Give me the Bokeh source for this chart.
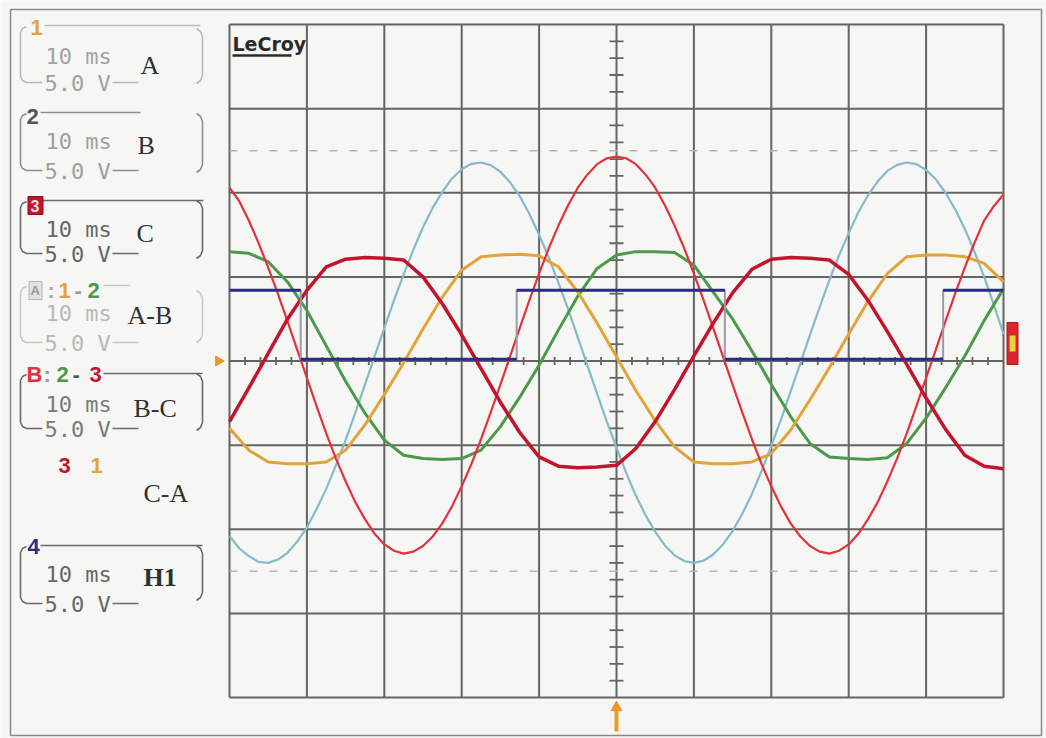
import numpy as np
from bokeh.plotting import figure
from bokeh.models import Range1d, Label, ColumnDataSource
from bokeh.embed import file_html
from bokeh.resources import INLINE

# ---- acquisition: 10 ms/div, 5 V/div, 10 x 8 divisions ----
t_ms = [0.0, 2.5, 5.0, 7.5, 10.0, 12.5, 15.0, 17.5, 20.0, 22.5,
        25.0, 27.5, 30.0, 32.5, 35.0, 37.5, 40.0, 42.5, 45.0, 47.5,
        50.0, 52.5, 55.0, 57.5, 60.0, 62.5, 65.0, 67.5, 70.0, 72.5,
        75.0, 77.5, 80.0, 82.5, 85.0, 87.5, 90.0, 92.5, 95.0, 97.5, 100.0]

# channel 1 (phase A), volts
ch1_a = [-4.0, -5.3, -6.0, -6.1, -6.1, -6.0, -5.3, -3.8, -2.0, -0.1,
         1.9, 3.8, 5.4, 6.2, 6.3, 6.35, 6.25, 5.6, 4.1, 2.25,
         0.25, -1.75, -3.55, -5.1, -6.0, -6.1, -6.1, -6.0, -5.5, -4.1,
         -2.3, -0.4, 1.6, 3.55, 5.2, 6.2, 6.3, 6.3, 6.2, 5.8, 4.7]

# channel 2 (phase B), volts
ch2_b = [6.5, 6.4, 5.9, 4.7, 3.0, 0.9, -1.2, -3.1, -4.7, -5.6,
         -5.8, -5.85, -5.8, -5.3, -3.9, -2.15, -0.25, 1.85, 3.85, 5.5,
         6.3, 6.5, 6.5, 6.45, 5.7, 4.1, 2.5, 0.6, -1.4, -3.3,
         -4.9, -5.7, -5.8, -5.85, -5.75, -4.9, -3.4, -1.6, 0.3, 2.4, 4.3]

# channel 3 (phase C), volts
ch3_c = [-3.6, -1.6, 0.45, 2.5, 4.2, 5.6, 6.05, 6.15, 6.1, 6.0,
         5.0, 3.4, 1.55, -0.45, -2.45, -4.25, -5.7, -6.25, -6.35, -6.3,
         -6.2, -5.2, -3.6, -1.7, 0.3, 2.25, 4.05, 5.45, 6.05, 6.15,
         6.1, 6.0, 5.15, 3.6, 1.75, -0.2, -2.2, -4.05, -5.6, -6.25, -6.4]

# math traces are stored at a finer step
t_math_ms = [0.0, 1.25, 2.5, 3.75, 5.0, 6.25, 7.5, 8.75, 10.0, 11.25,
             12.5, 13.75, 15.0, 16.25, 17.5, 18.75, 20.0, 21.25, 22.5, 23.75,
             25.0, 26.25, 27.5, 28.75, 30.0, 31.25, 32.5, 33.75, 35.0, 36.25,
             37.5, 38.75, 40.0, 41.25, 42.5, 43.75, 45.0, 46.25, 47.5, 48.75,
             50.0, 51.25, 52.5, 53.75, 55.0, 56.25, 57.5, 58.75, 60.0, 61.25,
             62.5, 63.75, 65.0, 66.25, 67.5, 68.75, 70.0, 71.25, 72.5, 73.75,
             75.0, 76.25, 77.5, 78.75, 80.0, 81.25, 82.5, 83.75, 85.0, 86.25,
             87.5, 88.75, 90.0, 91.25, 92.5, 93.75, 95.0, 96.25, 97.5, 98.75, 100.0]

# math trace A-B (channel 1 - channel 2), volts
math_ab = [-10.4, -11.13, -11.6, -11.94, -12.0, -11.8, -11.4, -10.73, -9.9, -8.8,
           -7.6, -6.19, -4.7, -3.08, -1.4, 0.27, 1.95, 3.6, 5.15, 6.61,
           7.95, 9.1, 10.05, 10.85, 11.4, 11.72, 11.8, 11.64, 11.25, 10.62,
           9.8, 8.74, 7.5, 6.15, 4.65, 3.08, 1.4, -0.27, -1.95, -3.6,
           -5.15, -6.65, -8.0, -9.16, -10.15, -10.96, -11.55, -11.89, -12.0, -11.87,
           -11.5, -10.91, -10.1, -9.08, -7.9, -6.53, -5.05, -3.48, -1.8, -0.14,
           1.55, 3.2, 4.8, 6.28, 7.6, 8.84, 9.85, 10.68, 11.3, 11.66,
           11.8, 11.7, 11.35, 10.8, 10.0, 9.02, 7.85, 6.5, 5.0, 3.35, 1.6]

# math trace B-C (channel 2 - channel 3), volts
math_bc = [10.3, 9.51, 8.35, 7.02, 5.55, 4.0, 2.35, 0.66, -1.0, -2.68,
           -4.3, -5.8, -7.15, -8.39, -9.4, -10.27, -10.9, -11.28, -11.45, -11.33,
           -11.0, -10.43, -9.65, -8.64, -7.45, -6.13, -4.65, -3.06, -1.4, 0.27,
           1.95, 3.62, 5.2, 6.7, 8.05, 9.26, 10.3, 11.09, 11.7, 12.05,
           12.15, 12.05, 11.7, 11.09, 10.3, 9.26, 8.05, 6.7, 5.2, 3.62,
           1.95, 0.27, -1.4, -3.06, -4.65, -6.13, -7.45, -8.64, -9.65, -10.43,
           -11.0, -11.33, -11.45, -11.28, -10.9, -10.27, -9.4, -8.39, -7.15, -5.8,
           -4.3, -2.68, -1.0, 0.66, 2.35, 4.0, 5.55, 7.02, 8.35, 9.2, 9.9]

# channel 4 (H1 logic signal): edge times and levels
h1_edges_ms = [0.0, 9.2, 37.1, 64.0, 92.2, 100.0]
h1_levels_v = [4.2, 0.1, 4.2, 0.1, 4.2]

TIME_DIV = 10.0
VOLT_DIV = 5.0
N_HDIV, N_VDIV = 10, 8
T_SPAN = N_HDIV * TIME_DIV
V_HALF = N_VDIV * VOLT_DIV / 2

# page geometry: the graticule sits inside a 1046 x 738 screen
W, H = 1046, 738
GX0, GX1, GY0, GY1 = 229, 1003, 24, 697
ms_per_px = T_SPAN / (GX1 - GX0)
v_per_px = (2 * V_HALF) / (GY1 - GY0)
x_lo = -GX0 * ms_per_px
x_hi = T_SPAN + (W - GX1) * ms_per_px
y_hi = V_HALF + GY0 * v_per_px
y_lo = -V_HALF - (H - GY1) * v_per_px


def sx(px):
    return x_lo + px * ms_per_px


def sy(py):
    return y_hi - py * v_per_px


BG = "#f6f6f4"
GRID = "#646464"

p = figure(width=W, height=H, x_range=Range1d(x_lo, x_hi), y_range=Range1d(y_lo, y_hi),
           x_axis_type=None, y_axis_type=None, output_backend="svg",
           toolbar_location=None, min_border=0, background_fill_color=BG,
           border_fill_color=BG, outline_line_color=None)

# ---- outer screen frame ----
p.line([sx(10), sx(1041), sx(1041), sx(10), sx(10)],
       [sy(9), sy(9), sy(735), sy(735), sy(9)], line_color="#8a8a8a", line_width=1.5)

# ---- graticule ----
vx = [i * TIME_DIV for i in range(N_HDIV + 1)]
p.segment(x0=vx, x1=vx, y0=[-V_HALF] * len(vx), y1=[V_HALF] * len(vx),
          line_color=GRID, line_width=2)
hy = [-V_HALF + j * VOLT_DIV for j in range(N_VDIV + 1)]
p.segment(x0=[0] * len(hy), x1=[T_SPAN] * len(hy), y0=hy, y1=hy,
          line_color=GRID, line_width=2)

# dashed reference lines at +/- 2.5 div
for lvl in (2.5 * VOLT_DIV, -2.5 * VOLT_DIV):
    p.segment(x0=[0], x1=[T_SPAN], y0=[lvl], y1=[lvl], line_color="#b4b4b4",
              line_width=1.5, line_dash="8 12")

# minor ticks on the centre axes (5 per division)
mt = [k * TIME_DIV / 5 for k in range(1, 5 * N_HDIV) if k % 5]
p.segment(x0=mt, x1=mt, y0=[-4 * v_per_px] * len(mt), y1=[4 * v_per_px] * len(mt),
          line_color=GRID, line_width=1.8)
mv = [k * VOLT_DIV / 5 for k in range(-5 * N_VDIV // 2 + 1, 5 * N_VDIV // 2) if k % 5]
p.segment(x0=[T_SPAN / 2 - 7 * ms_per_px] * len(mv), x1=[T_SPAN / 2 + 7 * ms_per_px] * len(mv),
          y0=mv, y1=mv, line_color=GRID, line_width=1.8)

# ---- traces ----
src = ColumnDataSource(dict(t=t_ms, a=ch1_a, b=ch2_b, c=ch3_c))
msrc = ColumnDataSource(dict(t=t_math_ms, ab=math_ab, bc=math_bc))
p.line("t", "ab", source=msrc, line_color="#86bac8", line_width=2.2)
p.line("t", "b", source=src, line_color="#4b9a4a", line_width=3)
p.line("t", "a", source=src, line_color="#e3a33b", line_width=3)
p.line("t", "bc", source=msrc, line_color="#e2323e", line_width=2.2)
p.line("t", "c", source=src, line_color="#c3142e", line_width=3.5)

# H1: grey transitions, navy levels
p.step(x=h1_edges_ms, y=h1_levels_v + [h1_levels_v[-1]], mode="after",
       line_color="#9a9aaa", line_width=2)
p.segment(x0=h1_edges_ms[:-1], x1=h1_edges_ms[1:], y0=h1_levels_v, y1=h1_levels_v,
          line_color="#2b2c86", line_width=3)

# ---- trigger markers ----
p.scatter([sx(218)], [0], marker="triangle", angle=-np.pi / 2, size=10,
          fill_color="#e89a2c", line_color="#e89a2c")
p.segment(x0=[T_SPAN / 2], x1=[T_SPAN / 2], y0=[sy(704)], y1=[sy(731)],
          line_color="#e89a2c", line_width=4)
p.scatter([T_SPAN / 2], [sy(707)], marker="triangle", size=11,
          fill_color="#e89a2c", line_color="#e89a2c")
p.rect([sx(1012)], [sy(343)], width=11 * ms_per_px, height=42 * v_per_px,
       fill_color="#d8262c", line_color="#b01820")
p.rect([sx(1012)], [sy(343)], width=6 * ms_per_px, height=16 * v_per_px,
       fill_color="#f2d23a", line_color=None)

# ---- LeCroy logo ----
p.add_layout(Label(x=sx(232), y=sy(43), text="LeCroy", text_font="DejaVu Sans",
                   text_font_style="bold", text_font_size="19px", text_color="#2a2a2a",
                   text_baseline="middle", text_align="left"))
p.line([sx(232), sx(291)], [sy(55), sy(55)], line_color="#2a2a2a", line_width=2.5)


# ---- channel descriptor boxes ----
def txt(px, py, s, color, size, font="DejaVu Sans Mono", style="normal"):
    p.add_layout(Label(x=sx(px), y=sy(py), text=s, text_font=font, text_font_style=style,
                       text_font_size=size, text_color=color, text_baseline="middle",
                       text_align="left"))


def channel_box(yt, yb, top_from, top_to, r_top, r_bot, line_col, txt_col,
                ms_y, name, name_x, name_y, name_style="normal"):
    # top edge
    p.line([sx(top_from), sx(top_to)], [sy(yt), sy(yt)], line_color=line_col, line_width=1.6)
    # left bracket with bottom stub
    lx = [26, 22, 20, 20, 22, 26, 42]
    ly = [yt + 1, yt + 3, yt + 7, yb - 6, yb - 2, yb, yb]
    p.line([sx(v) for v in lx], [sy(v) for v in ly], line_color=line_col, line_width=1.6)
    # trailing stub after the volts/div text
    p.line([sx(112), sx(138)], [sy(yb), sy(yb)], line_color=line_col, line_width=1.6)
    # right bracket
    rx = [196, 200, 202, 202, 200, 196]
    ry = [r_top, r_top + 3, r_top + 8, r_bot - 8, r_bot - 3, r_bot]
    p.line([sx(v) for v in rx], [sy(v) for v in ry], line_color=line_col, line_width=1.6)
    txt(45, ms_y, "10 ms", txt_col, "22px")
    txt(44, yb + 1, "5.0 V", txt_col, "22px")
    txt(name_x, name_y, name, "#303030", "26px", font="Liberation Serif", style=name_style)


NUM = "22px"
SANS = "Liberation Sans"

# channel 1
channel_box(25, 82, 44, 200, 28, 83, "#b8b8b8", "#a2a2a2", 56, "A", 140, 65)
txt(30, 27, "1", "#e3a33b", NUM, font=SANS, style="bold")

# channel 2
channel_box(112, 170, 40, 140, 113, 172, "#8e8e8e", "#a0a0a0", 141, "B", 137, 145)
txt(26, 116, "2", "#555555", NUM, font=SANS, style="bold")

# channel 3
channel_box(200, 253, 42, 203, 200, 258, "#6a6a6a", "#666666", 229, "C", 136, 233)
p.rect([sx(35)], [sy(205)], width=15 * ms_per_px, height=18 * v_per_px,
       fill_color="#c3142e", line_color="#8e0c1e")
txt(30, 205, "3", "#f6dede", "16px", font=SANS, style="bold")

# math A-B
channel_box(285, 342, 103, 130, 290, 342, "#c8c8c8", "#b8b8b8", 313, "A-B", 127, 315)
p.rect([sx(35)], [sy(290)], width=13 * ms_per_px, height=18 * v_per_px,
       fill_color="#e2e2e2", line_color="#b4b4b4")
txt(30, 290, "A", "#9a9a9a", "13px", font=SANS, style="bold")
txt(47, 290, ":", "#a8a8a8", NUM, font=SANS, style="bold")
txt(58, 290, "1", "#e3a33b", NUM, font=SANS, style="bold")
txt(74, 290, "-", "#9a9a9a", NUM, font=SANS, style="bold")
txt(87, 290, "2", "#4b9a4a", NUM, font=SANS, style="bold")

# math B-C
channel_box(373, 428, 103, 202, 373, 430, "#6a6a6a", "#7a7a7a", 404, "B-C", 133, 408)
txt(26, 374, "B", "#e2323e", NUM, font=SANS, style="bold")
txt(43, 374, ":", "#9a9a9a", NUM, font=SANS, style="bold")
txt(56, 374, "2", "#4b9a4a", NUM, font=SANS, style="bold")
txt(72, 374, "-", "#555555", NUM, font=SANS, style="bold")
txt(89, 374, "3", "#c3142e", NUM, font=SANS, style="bold")

# math C-A (no descriptor box)
txt(58, 465, "3", "#c3142e", NUM, font=SANS, style="bold")
txt(90, 465, "1", "#e3a33b", NUM, font=SANS, style="bold")
txt(143, 493, "C-A", "#303030", "26px", font="Liberation Serif")

# channel 4
channel_box(545, 603, 40, 202, 545, 600, "#6a6a6a", "#666666", 574, "H1", 143, 577,
            name_style="bold")
txt(27, 546, "4", "#2b2c86", NUM, font=SANS, style="bold")

open("out.html", "w").write(file_html(p, INLINE))
